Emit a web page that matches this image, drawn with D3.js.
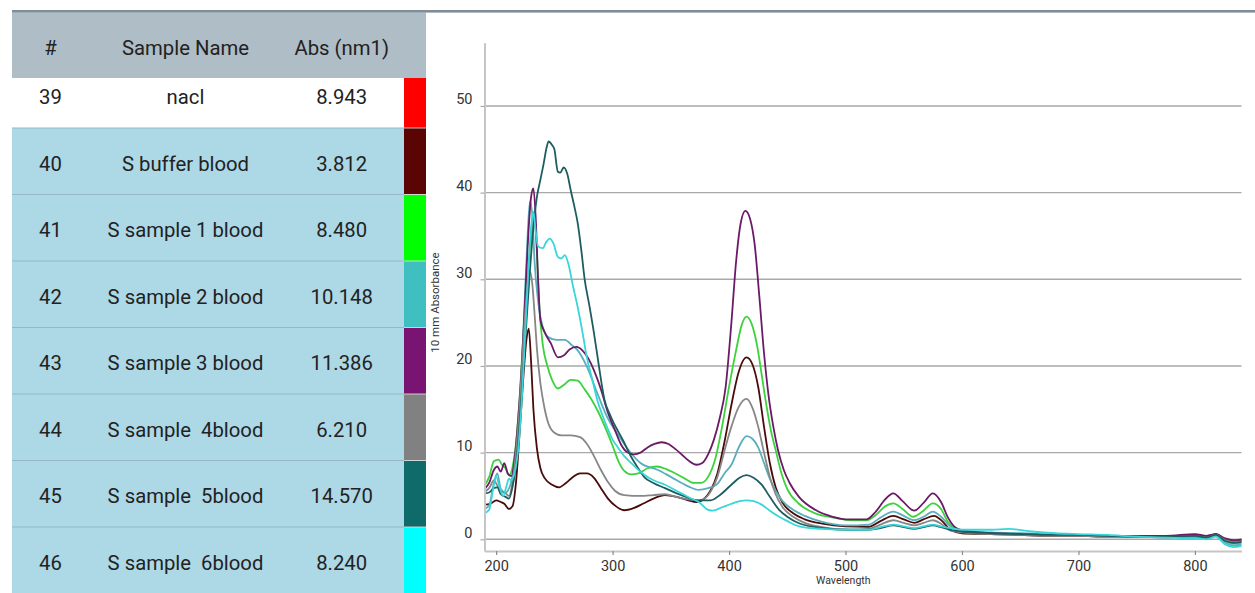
<!DOCTYPE html>
<html>
<head>
<meta charset="utf-8">
<script src="https://cdn.jsdelivr.net/npm/d3@7/dist/d3.min.js"></script>
<style>
  html, body { margin: 0; padding: 0; background: #ffffff; }
  svg { display: block; font-family: Roboto, "Noto Sans", sans-serif; }
  text { white-space: pre; }
</style>
</head>
<body>
<svg id="chart" width="1255" height="593"></svg>
<script>
// ---------- table data ----------
const headers = ["#", "Sample Name", "Abs (nm1)"];
const sampleIds = ["39", "40", "41", "42", "43", "44", "45", "46"];
const sampleNames = ["nacl", "S buffer blood", "S sample 1 blood", "S sample 2 blood",
                     "S sample 3 blood", "S sample  4blood", "S sample  5blood", "S sample  6blood"];
const absValues = ["8.943", "3.812", "8.480", "10.148", "11.386", "6.210", "14.570", "8.240"];
const swatchColors = ["#ff0000", "#5a0404", "#00ff00", "#3fbfbf", "#7a1472", "#818181", "#0f6a6a", "#00ffff"];

// ---------- chart axes ----------
const yTicks = [0, 10, 20, 30, 40, 50];
const xTicks = [200, 300, 400, 500, 600, 700, 800];
const xTitle = "Wavelength";
const yTitle = "10 mm Absorbance";

// ---------- spectra: [wavelength nm, absorbance] ----------
const specBuffer = [[190,4.0],[195,4.1],[200,4.5],[204,4.3],[207,4.1],[211,3.5],[214,3.8],[217,6.5],[220,12],[223,18],[226,23],[228,24.3],[230,20.5],[232,15],[235,10.5],[238,8.2],[242,7.0],[248,6.3],[254,6.0],[260,6.5],[266,7.2],[272,7.6],[278,7.6],[284,7.1],[290,5.9],[296,4.7],[303,3.8],[310,3.35],[318,3.6],[326,4.1],[335,4.7],[345,5.1],[355,4.9],[365,4.5],[372,4.3],[378,4.6],[384,5.6],[390,7.6],[396,11.2],[402,15.5],[408,19.2],[415,21],[420,20.2],[425,17.6],[430,13],[435,8.8],[440,6.0],[446,4.2],[455,3.0],[465,2.3],[480,1.8],[500,1.5],[520,1.45],[530,2.1],[541,2.7],[550,2.3],[559,1.9],[567,2.3],[576,2.7],[583,2.1],[590,1.1],[600,0.7],[625,0.6],[650,0.5],[675,0.4],[700,0.4],[725,0.3],[750,0.3],[775,0.3],[800,0.5],[810,0.3],[818,0.6],[826,0.0],[833,-0.2],[840,-0.1]];
const specSample1 = [[190,6.2],[194,7.2],[198,9.0],[202,9.2],[205,8.6],[208,8.2],[211,7.4],[214,8.3],[217,11],[220,16],[224,25],[228,32],[231,35.8],[233,36.8],[235,33],[237,27],[240,22.5],[244,20],[248,18.4],[253,17.4],[258,17.8],[264,18.4],[270,18.3],[276,17.3],[282,16.1],[288,14.6],[294,12.8],[300,10.8],[305,9],[310,7.9],[316,7.5],[322,7.6],[330,8.2],[338,8.4],[346,8.1],[354,7.6],[362,7.0],[370,6.5],[376,6.5],[382,7.2],[388,9.2],[394,13],[400,17.6],[406,21.8],[411,24.8],[415,25.7],[419,25.0],[424,22.4],[428,19],[432,15.5],[436,12.5],[440,10.3],[445,7.6],[450,5.8],[460,4.1],[474,3.0],[490,2.5],[505,2.2],[518,2.2],[526,2.8],[534,3.8],[541,4.15],[549,3.5],[558,2.6],[566,3.2],[575,4.15],[582,3.5],[588,2.0],[595,1.2],[605,0.9],[625,0.7],[650,0.6],[675,0.5],[700,0.5],[725,0.4],[750,0.3],[775,0.3],[800,0.3],[810,0.2],[818,0.5],[826,-0.2],[833,-0.5],[840,-0.4]];
const specSample2 = [[190,3.5],[194,3.9],[198,6.5],[201,7.6],[204,5.8],[208,5.4],[212,6.2],[215,8],[218,11],[221,17],[224,26],[227,35],[229,39],[231,37.5],[233,32],[236,27.5],[240,24.5],[245,23.3],[252,23],[259,23],[265,22.4],[270,21.8],[278,19.9],[287,16.8],[295,14.2],[304,12.2],[316,9.9],[324,8.8],[339,8.0],[350,7.2],[365,6.1],[374,5.7],[382,5.9],[390,6.4],[396,7.6],[402,8.6],[409,10.8],[415,11.9],[420,11.6],[425,10.6],[430,8.8],[435,7],[440,5.6],[446,4.4],[455,3.4],[465,2.7],[480,2.0],[500,1.6],[520,1.7],[530,2.5],[541,3.2],[550,2.7],[559,2.2],[567,2.6],[575,3.2],[582,2.6],[590,1.5],[600,1.0],[625,0.8],[650,0.7],[675,0.6],[700,0.5],[725,0.4],[750,0.3],[775,0.3],[800,0.2],[810,0.1],[818,0.4],[826,-0.4],[833,-0.7],[840,-0.6]];
const specSample3 = [[190,5.8],[194,6.5],[198,8.0],[201,8.4],[204,7.8],[207,8.8],[210,7.6],[213,7.3],[216,9.5],[219,14],[222,20],[225,28],[228,36],[230,39.5],[232,40.5],[234,37],[236,30],[238,25.3],[242,23.8],[247,22.6],[253,21],[258,21.2],[263,21.9],[269,22.2],[274,21.8],[279,20.9],[284,19.5],[290,17.3],[296,14.6],[302,12.6],[307,11],[312,10.1],[318,9.8],[324,10.0],[330,10.6],[336,11.0],[342,11.2],[348,11.0],[354,10.4],[360,9.7],[366,9.0],[372,8.6],[377,8.8],[382,9.8],[387,11.5],[392,14],[397,17.5],[402,25],[406,32],[410,36.5],[414,37.9],[418,37],[422,34],[426,28],[430,21.5],[434,16.5],[438,13],[442,10.3],[447,8],[452,6.5],[460,4.9],[474,3.4],[489,2.6],[503,2.3],[518,2.3],[526,3.2],[534,4.6],[541,5.3],[549,4.4],[559,3.3],[567,4.2],[575,5.3],[582,4.3],[588,2.5],[595,1.3],[605,0.9],[625,0.7],[650,0.6],[675,0.5],[700,0.5],[725,0.4],[750,0.4],[775,0.4],[800,0.6],[810,0.4],[818,0.6],[826,0.1],[833,-0.1],[840,0.0]];
const specSample4 = [[190,5.5],[194,5.9],[198,6.8],[201,6.2],[204,5.6],[208,5.3],[211,5.0],[214,6.6],[217,10],[220,15],[223,22],[226,28],[229,30.9],[231,29.5],[233,26],[235,22],[238,18],[241,15.5],[245,13.3],[250,12.3],[256,12.0],[264,12.0],[272,11.8],[278,11.0],[284,9.6],[290,8.0],[296,6.6],[302,5.6],[310,5.1],[324,5.0],[335,5.1],[345,5.2],[355,4.9],[365,4.6],[374,4.5],[380,4.8],[385,5.7],[390,7.2],[396,10.2],[402,13],[408,15.2],[415,16.2],[420,15.2],[425,13],[430,10],[435,7.2],[440,5.2],[446,3.7],[455,2.6],[465,1.9],[480,1.4],[503,1.1],[520,1.2],[530,1.7],[541,2.2],[550,1.9],[559,1.6],[567,1.9],[575,2.2],[582,1.8],[590,1.0],[600,0.8],[625,0.6],[650,0.5],[675,0.4],[700,0.4],[725,0.3],[750,0.3],[775,0.2],[800,0.4],[810,0.2],[818,0.5],[826,-0.1],[833,-0.3],[840,-0.2]];
const specSample5 = [[190,5.3],[194,5.4],[198,5.9],[201,6.0],[204,5.2],[208,4.9],[211,4.7],[214,6.0],[217,8.5],[220,13],[223,19],[226,25],[229,31],[232,36],[235,39.5],[238,41.5],[241,43.5],[243,45],[245,45.9],[248,45.5],[250,45],[253,42.4],[255,42.3],[258,42.9],[261,42.2],[264,40.3],[267,38.5],[270,36.5],[273,33.5],[276,30],[280,27],[284,23.8],[288,20.2],[293,16.1],[298,14.3],[301,13.4],[305,12.4],[309,11.4],[316,9.5],[322,8.2],[327,7.2],[335,6.5],[345,5.9],[355,5.3],[363,4.9],[373,4.5],[384,4.5],[393,5.2],[402,6.3],[409,7.1],[415,7.4],[421,7.1],[428,6.3],[435,4.9],[443,3.4],[450,2.6],[460,1.85],[480,1.3],[503,1.1],[520,1.1],[530,1.3],[541,1.6],[550,1.4],[559,1.2],[567,1.4],[575,1.6],[582,1.4],[590,1.1],[600,0.9],[625,0.7],[650,0.6],[675,0.5],[700,0.5],[725,0.4],[750,0.3],[775,0.3],[800,0.4],[810,0.2],[818,0.5],[826,-0.2],[833,-0.4],[840,-0.3]];
const specSample6 = [[190,3.0],[194,3.4],[197,5.5],[200,7.2],[203,6.0],[206,5.0],[209,6.2],[211,7.0],[213,6.8],[216,7.8],[219,10.5],[222,16],[225,24],[228,32],[230,36],[232,37.8],[234,35.5],[236,33.8],[240,33.6],[243,34.3],[246,34.7],[249,34.2],[253,32.6],[256,32.4],[259,32.8],[262,31.8],[266,29.2],[270,26.8],[274,24],[278,20.9],[283,18.2],[287,16],[291,14.4],[296,12.7],[300,11.5],[304,10.7],[310,9.6],[316,8.8],[323,7.9],[330,7.2],[337,6.7],[345,6.3],[352,5.8],[359,5.3],[366,4.8],[374,4.3],[382,3.4],[386,3.3],[394,3.7],[402,4.1],[409,4.4],[415,4.5],[421,4.4],[428,4.0],[435,3.3],[443,2.6],[450,2.1],[460,1.5],[480,1.2],[503,1.1],[520,1.1],[530,1.4],[541,1.7],[550,1.5],[559,1.3],[567,1.5],[575,1.7],[582,1.5],[590,1.3],[600,1.1],[625,1.1],[640,1.2],[660,0.9],[680,0.7],[700,0.6],[725,0.5],[750,0.3],[775,0.2],[800,0.1],[810,0.0],[818,0.3],[826,-0.6],[833,-0.9],[840,-0.8]];

const seriesNames = ["S buffer blood", "S sample 1 blood", "S sample 2 blood", "S sample 3 blood", "S sample  4blood", "S sample  5blood", "S sample  6blood"];
const seriesData = [specBuffer, specSample1, specSample2, specSample3, specSample4, specSample5, specSample6];
const lineColors = ["#4a0b0b", "#3cd23c", "#5aaebd", "#6a1a66", "#878787", "#1d5d62", "#38d6d8"];

// ---------- drawing ----------
const svg = d3.select("#chart");

// ===== Table =====
const tableLeft = 12, tableRight = 426, swatchLeft = 404;
const headerTop = 12.5, headerBottom = 78;
const rowStart = 61.5, rowH = 66.5;
const colCenters = [50.5, 185.5, 341.7];

const rowY = d3.scaleLinear().domain([0, 1]).range([rowStart, rowStart + rowH]);

const tbl = svg.append("g");
const rows = tbl.selectAll("g.row").data(sampleIds).join("g").attr("class", "row");
rows.append("rect")
  .attr("x", tableLeft).attr("y", (d, i) => rowY(i))
  .attr("width", swatchLeft - tableLeft).attr("height", rowH)
  .attr("fill", (d, i) => i === 0 ? "#ffffff" : "#add8e6");
rows.append("rect")
  .attr("x", swatchLeft).attr("y", (d, i) => rowY(i))
  .attr("width", tableRight - swatchLeft).attr("height", rowH)
  .attr("fill", (d, i) => swatchColors[i]);
rows.filter((d, i) => i > 0).append("line")
  .attr("x1", tableLeft).attr("x2", swatchLeft)
  .attr("y1", (d, i) => rowY(i + 1)).attr("y2", (d, i) => rowY(i + 1))
  .attr("stroke", "#94b9c6").attr("stroke-width", 1.2);
rows.filter((d, i) => i > 0).append("line")
  .attr("x1", swatchLeft).attr("x2", tableRight)
  .attr("y1", (d, i) => rowY(i + 1)).attr("y2", (d, i) => rowY(i + 1))
  .attr("stroke", "#e8e8e8").attr("stroke-width", 0.8);
const cellText = (sel, accessor, ci) => sel.append("text")
  .attr("x", colCenters[ci]).attr("y", (d, i) => rowY(i) + 42.7)
  .attr("text-anchor", "middle").attr("font-size", 20.3).attr("fill", "#222222")
  .text(accessor);
cellText(rows, (d) => d, 0);
cellText(rows, (d, i) => sampleNames[i], 1);
cellText(rows, (d, i) => absValues[i], 2);

// header
tbl.append("rect").attr("x", tableLeft).attr("y", headerTop)
  .attr("width", tableRight - tableLeft).attr("height", headerBottom - headerTop)
  .attr("fill", "#aebdc6");
tbl.selectAll("text.hdr").data(headers).join("text").attr("class", "hdr")
  .attr("x", (d, i) => colCenters[i]).attr("y", 54.5)
  .attr("text-anchor", "middle").attr("font-size", 20.3).attr("fill", "#222222")
  .text(d => d);
// top border
svg.append("rect").attr("x", 12).attr("y", 10).attr("width", 1243).attr("height", 2.6).attr("fill", "#7e8e99");

// ===== Chart =====
const x = d3.scaleLinear().domain([190, 840]).range([484.5, 1241.5]);
const y = d3.scaleLinear().domain([-1.35, 57.3]).range([551, 42.7]);

const chart = svg.append("g");

// gridlines
chart.selectAll("line.grid").data(yTicks).join("line").attr("class", "grid")
  .attr("x1", x(190)).attr("x2", x(840))
  .attr("y1", d => y(d)).attr("y2", d => y(d))
  .attr("stroke", "#a9a9a9").attr("stroke-width", 1.4);

// spectra
const line = d3.line().x(d => x(d[0])).y(d => y(d[1])).curve(d3.curveMonotoneX);
chart.selectAll("path.spec").data(seriesData).join("path").attr("class", "spec")
  .attr("d", line).attr("fill", "none")
  .attr("stroke", (d, i) => lineColors[i]).attr("stroke-width", 1.8)
  .attr("stroke-linejoin", "round");

// y axis
const yAxis = chart.append("g").attr("transform", `translate(${x(190)},0)`)
  .call(d3.axisLeft(y).tickValues(yTicks).tickSize(4).tickSizeOuter(0).tickPadding(8));
yAxis.select(".domain").attr("stroke", "#c6c6c6").attr("stroke-width", 2);
yAxis.selectAll(".tick line").attr("stroke", "#a9a9a9").attr("stroke-width", 1.2);
yAxis.selectAll(".tick text").attr("dy", "-2px").attr("font-size", 14.5)
  .attr("fill", "#333333").attr("font-family", "Roboto, sans-serif");

// x axis
const xAxis = chart.append("g").attr("transform", `translate(0,${y(-1.35)})`)
  .call(d3.axisBottom(x).tickValues(xTicks).tickSize(4).tickSizeOuter(0).tickPadding(6));
xAxis.select(".domain").attr("stroke", "#c6c6c6").attr("stroke-width", 2);
xAxis.selectAll(".tick line").attr("stroke", "#8a8a8a").attr("stroke-width", 1.2);
xAxis.selectAll(".tick text").attr("font-size", 14.5)
  .attr("fill", "#333333").attr("font-family", "Roboto, sans-serif");

// axis titles
chart.append("text").attr("x", 843.3).attr("y", 584)
  .attr("text-anchor", "middle").attr("font-size", 10.5).attr("fill", "#333333")
  .text(xTitle);
chart.append("text").attr("transform", "translate(438.5,302.5) rotate(-90)")
  .attr("text-anchor", "middle").attr("font-size", 11.5).attr("fill", "#333333")
  .text(yTitle);
</script>
</body>
</html>
